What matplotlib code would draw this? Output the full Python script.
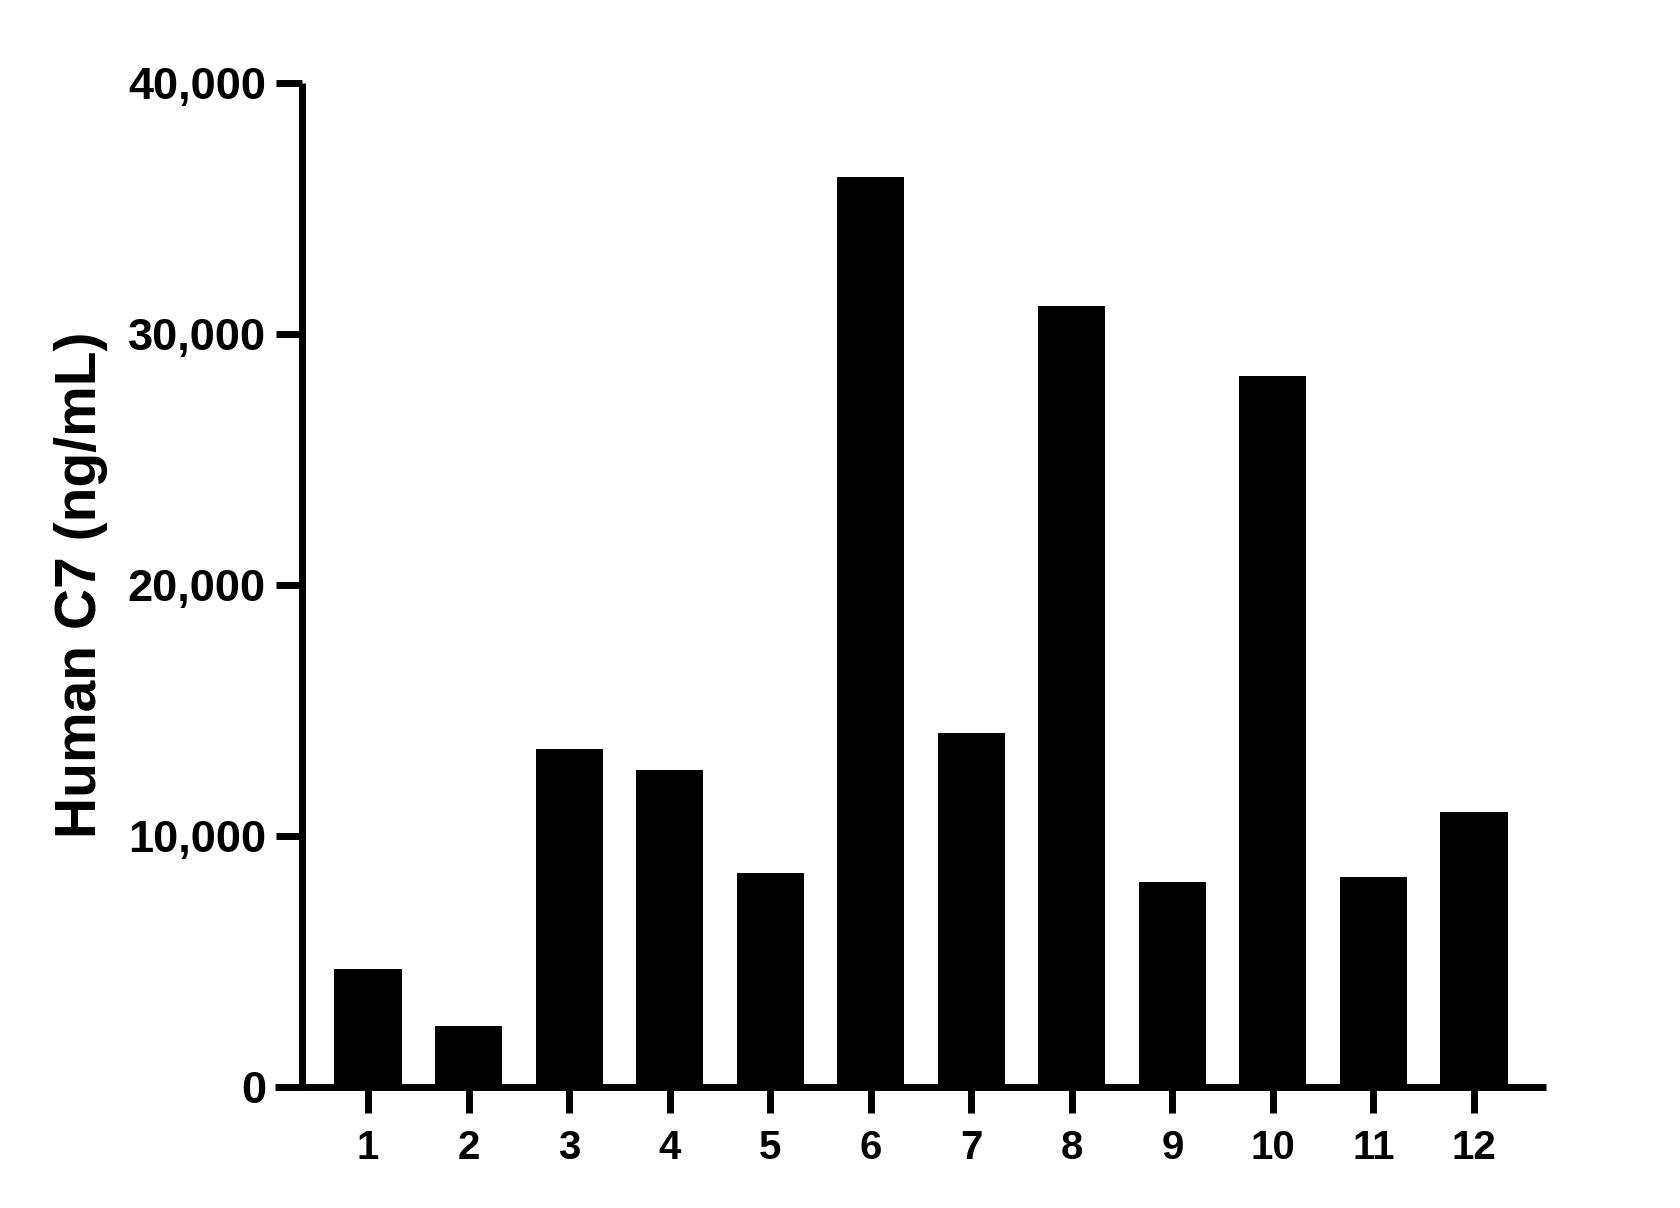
import matplotlib
matplotlib.use("Agg")
import matplotlib.pyplot as plt
from matplotlib.ticker import FuncFormatter

categories = ["1", "2", "3", "4", "5", "6", "7", "8", "9", "10", "11", "12"]
values = [4700, 2430, 13470, 12630, 8540, 36270, 14100, 31130, 8170, 28340, 8380, 10970]
yticks = [0, 10000, 20000, 30000, 40000]
ylabel = "Human C7 (ng/mL)"

plt.rcParams['font.family'] = ['Liberation Sans', 'DejaVu Sans']
plt.rcParams['font.weight'] = 'bold'

fig = plt.figure(figsize=(16.8, 12.08), dpi=100)
ax = fig.add_axes([275/1680, 1 - 1087/1208, (1546-275)/1680, (1087-83)/1208])

xpos = list(range(1, len(categories) + 1))
ax.bar(xpos, values, width=0.667, color='black', edgecolor='none', zorder=2)

ax.set_xlim(0.075, 12.716)
ax.set_ylim(0, 40000)
ax.set_xticks(xpos)
ax.set_xticklabels(categories)
ax.set_yticks(yticks)
ax.yaxis.set_major_formatter(FuncFormatter(lambda v, p: f"{int(v):,}"))

for s in ['top', 'right']:
    ax.spines[s].set_visible(False)
ax.spines['left'].set_position(('data', 0.344))
for s in ['left', 'bottom']:
    ax.spines[s].set_linewidth(5)
    ax.spines[s].set_capstyle('butt')

ax.tick_params(axis='both', which='major', direction='out', length=19, width=5, color='black')
ax.tick_params(axis='y', labelsize=32.5, pad=7)
ax.tick_params(axis='x', labelsize=29, pad=11)
for lab in ax.get_xticklabels() + ax.get_yticklabels():
    lab.set_fontweight('bold')

ax.set_ylabel(ylabel, fontsize=41, fontweight='bold', va='center')
ax.yaxis.set_label_coords(-0.153, 0.5005)

fig.savefig("out.png", dpi=100, facecolor='white')
